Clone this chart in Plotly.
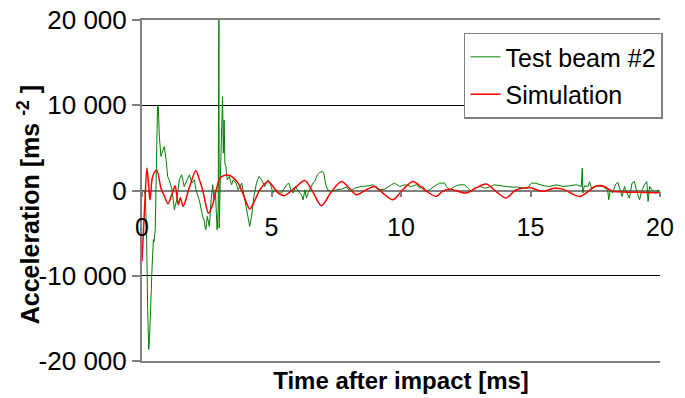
import plotly.graph_objects as go

# ---- data ----
test_t = [0.00, 0.08, 0.13, 0.18, 0.22, 0.26, 0.29, 0.33, 0.37, 0.39, 0.44, 0.47, 0.51, 0.54, 0.57,
          0.60, 0.63, 0.67, 0.73, 0.80, 0.86, 0.93, 0.99, 1.05, 1.10, 1.16, 1.25, 1.34, 1.44, 1.53,
          1.63, 1.72, 1.83, 1.93, 2.02, 2.08, 2.21, 2.34, 2.40, 2.43, 2.47, 2.52, 2.60, 2.66, 2.73,
          2.78, 2.83, 2.90, 2.94, 2.97, 2.98, 3.03, 3.07, 3.11, 3.14, 3.17, 3.20, 3.24, 3.29, 3.37,
          3.46, 3.52, 3.63, 3.71, 3.85, 3.97, 4.08, 4.16, 4.23, 4.32, 4.42, 4.52, 4.62, 4.74, 4.87,
          4.96, 5.06, 5.19, 5.30, 5.39, 5.58, 5.67, 5.75, 5.84, 5.93, 6.03, 6.16, 6.22, 6.29, 6.35,
          6.41, 6.54, 6.60, 6.67, 6.77, 6.86, 6.95, 7.02, 7.08, 7.16, 7.32, 7.51, 7.70, 7.90, 8.02,
          8.21, 8.47, 8.73, 8.92, 9.12, 9.38, 9.63, 9.75, 9.95, 10.16, 10.40, 10.59, 10.72, 10.85,
          10.98, 11.11, 11.24, 11.36, 11.49, 11.69, 11.75, 11.88, 12.07, 12.26, 12.46, 12.58, 12.71,
          12.84, 13.04, 13.23, 13.42, 13.61, 13.81, 14.06, 14.32, 14.51, 14.71, 14.90, 15.03, 15.16,
          15.54, 15.73, 15.99, 16.25, 16.50, 16.77, 16.96, 17.00, 17.02, 17.08, 17.22, 17.28, 17.35,
          17.53, 17.79, 17.98, 18.02, 18.08, 18.17, 18.28, 18.37, 18.46, 18.54, 18.63, 18.72, 18.82,
          18.92, 19.01, 19.10, 19.21, 19.31, 19.40, 19.49, 19.54, 19.60, 19.73, 19.83, 19.92, 20.00]
test_acc = [0, 0, -500, -6000, -14000, -18650, -17500, -13000, -9500, -8900, -5770, -6000, -4600, 2000, 9060,
            10000, 9800, 6300, 4000, 4770, 5150, 3600, 1640, 1250, 800, 80, -2260, -1090, 1250, 1840,
            470, 1050, 1840, 870, 1250, 80, -1090, -3040, -3500, -4220, -4600, -3040, -4220, -1480, 670,
            -1090, 80, -4600, -2260, 20370, -4400, 2040, 5550, 11000, 4380, 8280, 3210, 2810, 1250, 1640,
            670, 1250, 870, 80, 870, -1090, -3040, -4220, -3040, -700, 870, 1640, 1250, 470, 1250,
            670, -230, 80, -300, -300, 670, 870, 80, -300, 470, -100, -500, -1090, 80, -890,
            -300, 470, 870, 1050, 1840, 2110, 2230, 2040, 870, 80, -100, 80, 160, 400, -100,
            280, 470, 550, 670, 80, 160, 670, 870, 470, 670, 470, 670, 280, 470,
            -100, 80, 400, 670, 870, 870, 470, 80, 470, 670, 670, 280, -100,
            280, 470, 280, 400, 670, 550, 470, 400, 400, 280, 280, 870, 870,
            550, 470, 670, 470, 550, 670, 470, 2620, -300, 550, 470, 1050, 280,
            550, 470, 80, -1090, 80, -300, 670, 980, 80, -700, 470, -300, -890,
            870, 1050, -100, -1090, 80, 670, 1050, -1290, 470, -100, -300, 80, -500]

sim_t = [0.00, 0.10, 0.19, 0.25, 0.31, 0.41, 0.57, 0.73, 0.87, 1.00, 1.15, 1.28, 1.40, 1.48, 1.59,
         1.82, 2.08, 2.20, 2.34, 2.45, 2.56, 2.70, 2.81, 3.01, 3.20, 3.39, 3.71, 3.95, 4.16, 4.35,
         4.55, 4.87, 5.26, 5.50, 5.90, 6.29, 6.60, 6.93, 7.30, 7.70, 8.00, 8.28, 8.60, 8.99, 9.30,
         9.69, 10.10, 10.46, 10.90, 11.36, 11.60, 11.88, 12.20, 12.52, 12.90, 13.29, 13.70, 14.06,
         14.40, 14.71, 14.96, 15.47, 15.90, 16.24, 16.90, 17.50, 17.78, 18.16, 18.40, 18.80, 19.40, 20.00]
sim_acc = [-8300, -2000, 2650, 800, -1100, 1640, 2420, 300, -700, -1550, -500, 550, -1680, -850, -1870,
           280, 2340, 1400, 80, -1500, -2650, -1900, -700, 1450, 1800, 1760, 870, -800, -2180, -1200,
           80, 1050, -300, -600, 300, 1170, -200, -1790, -200, 1050, 300, -500, 0, 470, -300,
           -1090, 200, 1050, 100, -700, -100, 160, -100, -300, 300, 750, -200, -890,
           0, 280, 350, -100, 250, 160, -700, 470, 550, -100, -150, -200, -220, -250]

x_ticks = [0, 5, 10, 15, 20]
y_ticks = [-20000, -10000, 0, 10000, 20000]
y_tick_text = ["-20 000", "-10 000", "0", "10 000", "20 000"]

FONT = "Liberation Sans, Arial, sans-serif"
GRAY = "#808080"
FS = 25
FT = 24

fig = go.Figure()
fig.add_trace(go.Scatter(x=test_t, y=test_acc, mode="lines", name="Test beam #2",
                         line=dict(color="#008000", width=1), legendgroup="a"))
fig.add_trace(go.Scatter(x=sim_t, y=sim_acc, mode="lines", name="Simulation", xaxis="x2",
                         line=dict(color="#FF0000", width=1.5, shape="spline", smoothing=0.8),
                         legendgroup="b"))

fig.update_layout(
    width=685, height=398, autosize=False,
    margin=dict(l=142, r=25, t=20, b=37),
    paper_bgcolor="white", plot_bgcolor="white",
    font=dict(family=FONT, size=FS, color="black"),
    showlegend=True,
    legend=dict(x=0.6216, y=0.963, xanchor="left", yanchor="top",
                bgcolor="white", bordercolor=GRAY, borderwidth=1.5,
                font=dict(family=FONT, size=FS), tracegroupgap=2,
                traceorder="grouped"),
    xaxis=dict(range=[0, 20], anchor="free", position=0.5,
               tickvals=x_ticks, ticks="outside", ticklen=5, tickcolor=GRAY, tickwidth=1.5,
               showgrid=False, zeroline=False, showline=False,
               tickfont=dict(family=FONT, size=FS), ticklabelstandoff=9),
    xaxis2=dict(range=[0, 20], overlaying="x", anchor="y", side="bottom",
                showline=True, mirror=True, linecolor=GRAY, linewidth=2,
                showticklabels=False, ticks="", showgrid=False, zeroline=False,
                automargin=False,
                title=dict(text="Time after impact [ms]", standoff=10,
                           font=dict(family=FONT, size=FT, weight="bold"))),
    yaxis=dict(range=[-20000, 20000], tickvals=y_ticks, ticktext=y_tick_text,
               ticks="outside", ticklen=8, tickcolor=GRAY, tickwidth=1.5,
               showgrid=True, gridcolor="black", gridwidth=1,
               zeroline=True, zerolinecolor=GRAY, zerolinewidth=2,
               showline=True, linecolor=GRAY, linewidth=2,
               automargin=False,
               tickfont=dict(family=FONT, size=26)),
    annotations=[dict(text="<b>Acceleration [ms </b><sup><b>-2</b></sup><b> ]</b>",
                      textangle=-90, xref="paper", yref="paper",
                      x=-0.218, y=0.457, xanchor="center", yanchor="middle",
                      showarrow=False, font=dict(family=FONT, size=25, color="black"))],
)

fig.write_html("out.html")
